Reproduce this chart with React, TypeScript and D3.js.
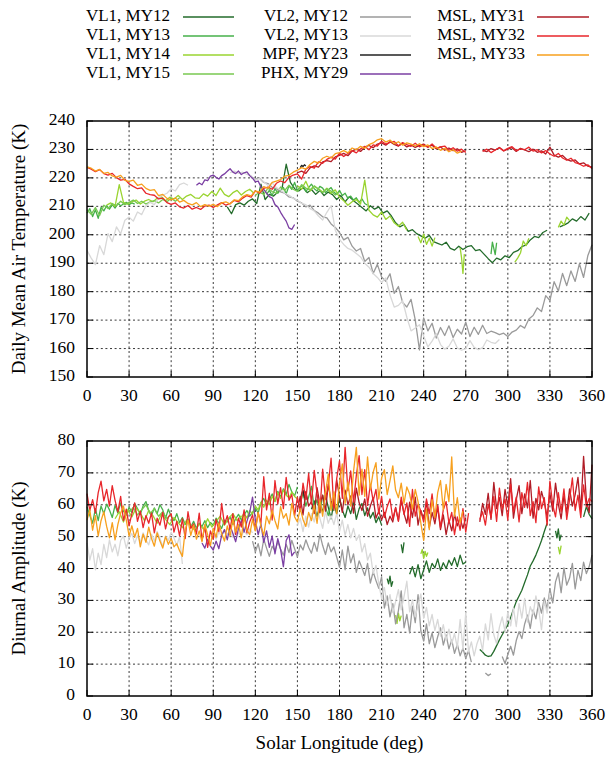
import React from "react";
import * as d3 from "d3";

type Seg = { start: number; step: number; values: (number | null)[] };

const xTicks = [0, 30, 60, 90, 120, 150, 180, 210, 240, 270, 300, 330, 360];
const tempTicks = [150, 160, 170, 180, 190, 200, 210, 220, 230, 240];
const ampTicks = [0, 10, 20, 30, 40, 50, 60, 70, 80];

const seriesLabels = [
  "VL1, MY12", "VL1, MY13", "VL1, MY14", "VL1, MY15",
  "VL2, MY12", "VL2, MY13", "MPF, MY23", "PHX, MY29",
  "MSL, MY31", "MSL, MY32", "MSL, MY33",
];
const seriesColors = [
  "#236b2b", "#46b04a", "#9ad430", "#78c850",
  "#9a9a9a", "#d8d8d8", "#222222", "#7b3fa3",
  "#b01c26", "#e8262b", "#f7a01e",
];

// ---------------- Daily mean temperature (K) ----------------
const msl32Temp = [
  223.7, 223.1, 222.2, 222.9, 221.5, 221.0, 221.6, 220.1, 219.2, 219.5,
  217.9, 217.0, 216.2, 216.5, 214.6, 214.1, 213.9, 212.6, 212.9, 211.3,
  210.7, 211.2, 209.8, 209.4, 210.3, 209.0, 209.6, 208.9, 210.1, 210.4,
  209.6, 210.5, 211.3, 210.4, 211.0, 212.1, 211.6, 212.9, 213.8, 213.2,
  215.4, 214.6, 216.3, 216.8, 216.0, 218.1, 218.9, 218.3, 220.2, 221.0,
  221.4, 219.6, 223.1, 224.0, 223.4, 225.6, 225.1, 226.5, 227.3, 226.6,
  228.7, 227.5, 228.6, 229.6, 228.8, 230.2, 231.1, 229.9, 231.6, 231.2,
  232.9, 231.9, 232.5, 232.8, 231.3, 232.4, 231.7, 231.1, 232.2, 230.9,
  231.6, 230.8, 231.9, 230.4, 230.9, 231.2, 229.7, 230.6, 229.4, 230.1,
  228.9, null, null, null, 229.3, 230.1, 228.9, 229.8, 230.6, 229.5,
  230.4, 231.0, 229.6, 230.2, 229.9, 230.8, 229.4, 229.9, 228.8, 229.6,
  228.4, 227.6, 228.6, 227.0, 226.2, 226.9, 225.4, 224.9, 224.1, 224.6,
  223.3,
];
const msl33Temp = [
  223.9, 223.4, 222.4, 223.0, 221.6, 221.9, 220.7, 220.3, 220.9, 219.1,
  218.8, 219.2, 217.4, 217.8, 216.3, 215.6, 215.9, 213.8, 214.2, 212.8,
  212.3, 212.9, 211.5, 212.1, 211.0, 210.5, 211.3, 209.9, 210.6, 210.1,
  210.7, 209.9, 211.2, 211.6, 210.8, 212.3, 212.0, 213.4, 214.1, 213.7,
  215.4, 215.0, 216.9, 216.3, 218.4, 218.9, 219.4, 220.6, 220.9, 222.0,
  222.7, 223.6, 223.1, 224.7, 225.8, 225.2, 226.9, 227.6, 227.0, 228.5,
  228.9, 229.6, 228.8, 230.5, 229.9, 231.1, 230.4, 231.7, 232.3, 233.4,
  233.8, 232.6, 233.3, 232.0, 232.7, 231.5, 232.3, 231.9, 231.2, 232.0,
  231.0, 231.6, 230.3, 230.9, 229.7, 230.4, 229.2, 229.9, 228.7, 229.4,
];
const msl31Temp = [
  221.8, 222.4, 221.6, 223.5, 224.2, 223.8, 225.6, 226.1, 225.7, 227.4,
  227.9, 228.6, 227.8, 229.4, 230.1, 229.3, 230.8, 231.4, 230.6, 231.9,
  232.3, 231.5, 232.7, 231.8, 231.2, 232.1, 230.9, 231.6, 230.7, 231.4,
  231.9, 230.8, 231.5, 230.2, 230.9, 229.7, 230.5, 229.6, 230.2, 229.0,
  229.6, null, null, null, 229.7, 229.2, 230.3, 229.8, 230.7, 229.5,
  230.1, 230.6, 229.3, 230.4, 229.8, 229.2, 230.1, 229.0, 229.5, 228.4,
  230.8, 228.0, 227.3, 227.9, 226.5, 225.9, 226.3, 224.9, 225.3, 224.1,
  223.8,
];
const vl2My12Temp = [
  220.2, 219.6, 219.9, 218.4, 218.0, 216.7, 216.2, 215.1, 214.6, 213.3,
  213.0, 211.8, 211.2, 209.8, 210.4, 208.5, 207.6, 206.3, 205.9, 203.8,
  202.6, 200.8, 198.2, 199.1, 196.0, 194.3, 195.2, 190.6, 192.0, 186.4,
  189.6, 185.2, 183.6, 186.3, 179.4, 181.8, 176.2, 174.6, 177.3, 170.1,
  159.5, 170.8, 166.2, 168.9, 163.7, 167.4, 164.6, 168.0, 163.9, 166.8,
  165.1, 169.3, 164.2, 167.5, 165.0, 168.2, 165.3, 166.1, 165.6, 164.9,
  165.4, 164.2, 165.8, 166.5, 168.1, 167.2, 170.4, 171.6, 174.3, 173.0,
  178.6, 176.9, 183.5, 180.2, 186.4, 182.1, 187.3, 183.6, 189.8, 185.0,
  192.6, 196.5,
];
const vl2My13Temp = [
  194.5, 191.8, 189.5, 196.2, 193.0, 200.4, 197.6, 202.8, 200.3, 205.1,
  206.2, 204.8, 208.0, 207.1, 210.2, 211.4, 210.6, 213.0, 213.9, 214.6,
  216.2, 215.4, 217.6, 218.2, 217.4, null, null, null, null, null,
  null, null, null, null, 221.8, 222.4, 221.6, 222.0, 221.2, 220.8,
  219.2, 219.8, 218.6, 217.4, 218.2, 216.6, 215.8, 214.6, 213.9, 212.8,
  212.2, 211.0, 210.6, 209.2, 208.4, 206.6, 205.2, 207.9, 210.2, 201.6,
  198.4, 196.6, 195.2, 194.6, 193.4, 192.2, 190.0, 188.6, 186.4, 185.0,
  183.2, 184.8, 178.8, 174.6, 175.2, 176.8, 171.0, 166.2, 167.2, 168.4,
  164.4, 160.6, 162.6, 165.2, 161.4, 159.8, 160.8, 163.4, 160.2, 159.4,
  160.0, 162.8, 160.4, 159.6, 160.3, 163.0, 162.2, 161.8, 163.2,
];
const phxTemp = [
  217.4, 218.2, 217.6, 219.3, 219.0, 220.6, 221.0, 220.2, 219.6, 220.8,
  221.4, 222.3, 223.2, 222.0, 221.5, 222.4, 221.2, 221.8, 222.1, 220.8,
  219.9, 218.6, 218.9, 216.8, 216.0, 214.6, 213.4, 212.9, 210.6, 209.8,
  207.9, 206.3, 204.8, 202.4, 201.9, 203.6,
];
const mpfTemp = [223.6, 224.4, 224.0, 224.6, 224.2];
const vl1My12Temp = [
  209.8, 207.4, 210.6, 211.2, 210.4, 211.8, 212.6, 211.0, 217.8, 212.4,
  214.2, 213.6, 215.0, 216.2, 224.8, 218.4, 216.2, 215.4, 216.6, 214.8,
  215.9, 214.2, 215.6, 213.8, 215.0, 214.1, 212.4, 213.8, 211.6, 213.4,
  212.0, 210.8, 209.6, 208.4, 210.2, 209.0, 209.8, 207.6, 208.4, 206.6,
  204.2, 202.8, 203.6, 201.2, 201.8, 200.4, 199.6, 198.8, 199.8, 197.6,
  197.0, 196.4, 197.4, 195.2, 194.6, 196.0, 194.8, 195.8, 196.2, 194.4,
  194.8, 193.2, 191.6, 190.2, 191.8, 191.2, 192.6, 192.0, 193.8, 194.4,
  195.8, 196.4, 198.2, 199.4, 199.0, 200.8, 201.6, null, null, 202.8,
  203.4, 204.2, 205.6, 204.8, 206.4, 205.2, 207.6,
];
const vl1My13TempA = [207.6, 209.2, 206.4, 208.8, 205.8, 209.6, 208.4, 210.2, 209.0, 210.6, 209.4, 211.0, 210.2, 210.8, 211.4, 210.6, 211.2, 210.8];
const vl1My13TempB = [
  214.2, 215.6, 213.8, 216.2, 214.6, 215.8, 216.6, 214.4, 217.2, 216.0,
  218.4, 215.6, 216.8, 217.4, 215.2, 216.6, 217.8, 216.2, 215.4, 217.0,
  216.4, 214.8, 215.8, 216.6, 215.0, 214.2, 215.6, 213.8, 214.6, 212.8,
  213.6, 212.2, 213.0, 211.4, 212.6, 211.0, 210.4,
];
const vl1My13TempC = [193.2, 197.4, 195.2, 193.0, 197.2];
const vl1My14TempA = [
  210.4, 211.2, 210.0, 217.6, 211.4, 210.8, 211.6, 212.2, 210.8, 211.8,
  212.4, 211.6, 212.8, 213.4, 212.0, 213.2, 212.6, 213.8, 212.4, 213.6,
  214.2, 213.0, 212.8, 214.4, 213.6, 215.2, 213.8, 216.4, 214.2, 213.4,
  214.8, 215.6, 214.0, 215.2, 216.0, 214.6,
];
const vl1My14TempB = [
  217.2, 216.0, 218.8, 215.4, 217.0, 216.2, 215.0, 216.4, 214.6, 215.8,
  213.2, 212.0, 210.4, 211.6, 212.4, 210.8, 219.2, 208.6, 207.0, 206.2,
  208.0, 205.4, 206.6, 204.2, 203.0, 204.4, 201.6,
];
const vl1My14TempC = [199.4, 197.2, 200.2, 196.6, 198.8, 196.0, 199.0];
const vl1My14TempD = [195.4, 192.0, 186.4, 193.2];
const vl1My14TempE = [190.4, 191.8, 193.6, 197.8, 196.2, 198.8];
const vl1My14TempF = [202.6, 204.8, 203.4, 206.2, 205.0];
const vl1My15TempA = [
  208.8, 207.2, 209.6, 206.8, 210.4, 209.2, 211.0, 210.2, 211.8, 210.6,
  211.4, 212.2, 211.0, 211.8, 210.8, 211.6, 212.0, 211.2, 212.4, 211.6,
  212.8, 211.8, 213.0,
];
const vl1My15TempB = [
  213.8, 215.0, 214.2, 216.4, 215.2, 214.6, 216.8, 215.6, 217.4, 216.0,
  215.2, 217.6, 216.4, 215.8, 217.2, 216.0, 214.8, 216.2, 215.4, 214.0, 215.0,
];

// ---------------- Diurnal amplitude (K) ----------------
const msl32Amp = [
  63.5, 58.2, 61.6, 57.4, 63.8, 67.4, 61.2, 64.8, 59.6, 66.0,
  61.4, 57.8, 62.6, 55.0, 58.6, 53.4, 57.2, 60.6, 54.8, 58.0,
  52.8, 56.6, 54.2, 57.4, 51.2, 55.8, 53.6, 57.6, 52.4, 56.2,
  57.2, 51.4, 54.8, 50.2, 55.6, 49.4, 57.8, 52.6, 54.0, 50.8,
  57.4, 48.8, 53.2, 46.6, 51.8, 49.2, 55.4, 51.6, 60.4, 53.8,
  56.6, 52.4, 57.2, 50.6, 55.8, 53.0, 58.4, 51.2, 54.6, 56.8,
  52.0, 57.6, 54.2, 68.8, 58.4, 63.6, 55.2, 67.6, 60.2, 65.4,
  58.8, 68.6, 61.4, 63.2, 56.6, 62.4, 58.0, 66.8, 61.6, 69.8,
  60.2, 70.8, 63.4, 57.6, 71.2, 61.8, 66.0, 74.6, 58.4, 68.2,
  73.8, 62.0, 78.0, 64.4, 70.6, 60.8, 69.2, 75.4, 63.2, 71.0,
  59.8, 66.4, 61.2, 64.8, 57.2, 62.6, 56.0, 59.4, 61.8, 55.6,
  59.0, 54.8, 62.4, 57.0, 60.6, 53.2, 64.8, 56.4, 60.2, 58.0,
  54.6, 61.8, 57.2, 63.4, 55.6, 59.8, 52.8, 58.4, 61.0, 54.2,
  57.6, 50.6, 56.2, 52.0, 58.8, 51.4, 57.4, null, null, null,
  55.4, 57.8, 53.6, 60.2, 56.0, 62.6, 54.8, 65.2, 58.6, 61.8,
  55.2, 66.4, 57.8, 62.4, 54.6, 63.8, 59.2, 67.0, 56.6, 61.0,
  54.4, 65.6, 58.8, 62.2, 53.6, 67.4, 60.0, 56.2, 63.8, 57.8,
  65.0, 55.4, 61.6, 68.4, 58.2, 63.0, 56.0, 66.2, 59.4, 62.0,
  61.0,
];
const msl33Amp = [
  55.2, 58.4, 52.0, 56.6, 50.2, 55.0, 57.8, 53.2, 49.6, 54.4,
  49.0, 53.8, 57.4, 59.6, 55.2, 50.2, 53.4, 49.8, 52.6, 46.8,
  50.8, 48.2, 53.0, 49.4, 47.0, 51.2, 48.6, 46.4, 50.0, 47.6,
  49.4, 46.8, 47.8, 45.6, 43.8, 52.0, 55.2, 50.4, 53.6, 49.2,
  51.8, 48.4, 53.8, 50.6, 47.2, 52.6, 49.8, 54.2, 51.0, 48.6,
  53.4, 50.2, 55.6, 51.4, 53.8, 49.6, 56.2, 52.0, 50.6, 55.4,
  51.8, 57.6, 53.2, 50.4, 56.4, 54.0, 58.2, 55.0, 52.4, 59.4,
  55.8, 57.2, 53.6, 60.4, 56.2, 54.6, 58.8, 55.4, 53.2, 57.6,
  55.0, 59.8, 54.2, 61.6, 56.4, 63.8, 69.6, 58.2, 64.0, 57.2,
  66.8, 72.8, 60.4, 67.2, 59.6, 70.4, 78.0, 63.0, 71.2, 62.6,
  75.0, 64.8, 70.2, 73.2, 61.8, 68.4, 71.0, 63.2, 67.6, 72.2,
  64.6, 62.2, 66.8, 60.4, 65.6, 63.4, 58.6, 64.8, 61.0, 54.2,
  48.8, 58.6, 52.2, 61.6, 56.0, 63.8, 67.6, 58.4, 66.4, 61.0,
  75.0, 56.4, 62.2, 54.4, 58.0,
];
const msl31Amp = [
  58.4, 62.6, 56.8, 64.2, 59.6, 61.0, 57.2, 65.4, 60.2, 63.0,
  58.0, 66.4, 61.2, 59.0, 67.8, 62.4, 57.6, 64.6, 60.0, 62.8,
  57.4, 65.2, 60.6, 58.2, 61.8, 56.4, 59.6, 62.2, 55.8, 58.0,
  55.2, 57.6, 53.8, 56.4, 54.6, 59.2, 55.0, 61.4, 57.2, 54.2,
  60.8, 56.0, 62.4, 53.6, 58.2, 55.4, 61.0, 52.8, 57.6, 54.0,
  59.4, 52.2, 56.8, 50.6, 55.2, 51.8, 57.0, 53.4, 55.8, 52.6,
  56.0, null, null, null, null, 54.6, 60.4, 57.0, 63.6, 55.4,
  67.0, 58.8, 62.2, 56.6, 64.8, 59.4, 68.2, 55.8, 61.6, 66.0,
  57.2, 63.4, 59.0, 67.6, 55.8, 62.0, 58.4, 64.2, 60.8, 56.2,
  63.6, 58.0, 66.8, 60.2, 55.6, 62.8, 57.4, 65.0, 59.6, 63.2,
  68.6, 58.2, 75.2, 61.4, 57.6, 72.6,
];
const vl1My13AmpA = [
  59.4, 56.6, 54.2, 58.8, 55.0, 59.6, 57.2, 60.2, 58.4, 56.0,
  59.8, 57.4, 60.6, 58.0, 56.8, 59.2, 57.6, 60.4, 58.8, 57.0,
  59.6, 61.0, 58.2, 56.6, 59.0, 57.2, 60.0, 58.4, 55.8, 58.6,
  56.4, 55.0, 57.2, 54.4, 56.0, 53.8, 55.6, 53.0, 54.8, 52.6,
  54.2, 53.2, 55.0, 52.8, 54.4, 53.6, 55.8, 54.0, 52.6, 55.2,
  54.6, 56.2, 53.8, 55.6, 57.0, 55.2, 56.8, 58.2, 56.4, 57.6,
  59.0, 57.4, 60.6, 62.0, 59.8, 61.6, 63.4, 61.0, 64.2, 62.4,
  65.0, 63.2, 66.4, 64.0, 62.8, 65.6,
];
const vl1My13AmpB = [60.2, 63.8, 59.6, 62.4, 65.8, 58.8, 61.6, 57.4, 63.0, 59.2, 56.6, 60.8, 58.0];
const vl1My14AmpA = [
  55.6, 57.8, 54.6, 58.4, 56.2, 59.0, 57.4, 55.0, 58.2, 56.6,
  54.2, 57.0, 55.4, 53.8, 56.0, 54.4, 52.8, 55.2, 53.6, 51.8,
  54.0, 52.4, 55.6, 53.0, 54.8, 56.4, 53.6, 55.8, 57.2, 55.0, 56.6,
];
const vl1My14AmpB = [
  56.0, 57.4, 55.8, 58.2, 57.0, 59.6, 58.4, 60.8, 59.2, 61.4,
  60.0, 62.6, 61.2, 63.8, 62.0, 64.6, 63.0, 62.2, 64.0, 62.6, 61.8,
];
const vl1My14AmpC = [44.6, 46.0, 43.2, 45.4, 43.8, 45.0];
const vl1My14AmpD = [25.4, 22.8, 26.0, 23.6, 25.2];
const vl1My14AmpE = [46.8, 44.6, 47.2];
const vl1My15AmpA = [57.6, 59.2, 56.8, 58.4, 60.0, 57.2, 58.8, 56.4, 57.8, 55.6, 57.0];
const vl1My12AmpA = [
  58.6, 61.2, 56.4, 60.0, 57.8, 63.0, 59.2, 55.6, 60.8, 57.0,
  62.2, 58.4, 56.0, 59.6, 57.2, 61.0, 55.4, 58.8, 60.4, 56.6,
  59.0, 55.8, 57.6, 54.4, 56.2, 53.6,
];
const vl1My12AmpB = [36.8, 35.2, 37.6, 34.4, 36.0];
const vl1My12AmpC = [47.6, 45.0, 48.2];
const vl1My12AmpD = [
  38.2, 40.6, 37.4, 41.2, 36.8, 39.6, 42.4, 38.8, 41.6, 40.2,
  43.0, 39.4, 41.8, 40.0, 42.6, 41.0, 43.4, 40.6, 44.2, 41.4, 42.0,
];
const vl1My12AmpE = [
  14.6, 13.8, 12.8, 12.4, 12.6, 14.0, 15.8, 17.6, 19.2, 20.8,
  22.4, 24.6, 27.2, 29.6, 31.4, 33.2, 35.6, 38.0, 40.8, 42.4,
  44.2, 46.4, 48.8, 51.6, 54.2,
];
const vl1My12AmpF = [51.8, 49.6, 52.4, 48.8, 50.6];
const vl1My12AmpG = [56.2, 59.4, 57.0, 55.6];
const vl2My12Amp = [
  48.6, 45.2, 47.8, 44.0, 49.2, 46.4, 43.8, 47.0, 45.6, 48.4,
  46.0, 44.2, 47.6, 45.0, 48.8, 46.2, 43.6, 47.4, 45.8, 49.0,
  46.6, 44.8, 48.2, 45.4, 50.8, 47.2, 44.4, 48.0, 45.2, 46.8,
  43.6, 40.4, 45.8, 39.6, 47.0, 41.8, 44.6, 38.8, 42.4, 40.2,
  37.8, 41.6, 35.4, 39.0, 36.2, 33.8, 37.4, 27.6, 31.4, 24.8,
  29.0, 22.6, 26.8, 33.0, 21.4, 25.6, 19.8, 28.2, 23.0, 31.8,
  20.4, 17.2, 22.6, 16.4, 19.8, 15.2, 18.6, 21.4, 16.0, 19.2,
  14.8, 17.6, 13.4, 16.2, 12.6, 15.0, 11.8, 14.2, 10.6, null,
  null, null, null, 7.2, 6.4, 7.0, null, null, null, 12.4,
  10.2, 13.0, 15.6, 12.8, 17.4, 20.2, 18.0, 22.6, 25.4, 21.2,
  27.0, 24.2, 29.4, 26.0, 30.8, 27.4, 33.6, 29.2, 35.8, 38.6,
  32.4, 40.2, 34.8, 37.0, 41.6, 33.6, 39.4, 36.2, 42.0, 38.4,
  40.6, 44.2,
];
const vl2My13Amp = [
  48.0, 42.6, 46.2, 39.6, 44.8, 41.2, 47.6, 43.4, 49.0, 45.2,
  47.6, 44.0, 48.8, 50.2, 46.4, 49.6, 51.0, 47.8, 50.4, 48.2,
  51.2, 49.0, 47.4, 50.8, 48.6, 51.6, 49.4, 47.0, 50.2, 48.8,
  51.4, 49.6, 47.2, 50.0, 41.4, null, null, null, null, null,
  null, null, null, null, null, 50.6, 49.2, 51.4, 50.0, 52.2,
  50.8, 51.6, 49.8, 52.0, 51.0, 50.2, 51.8, 50.6, 52.4, 51.2,
  null, null, null, null, null, null, null, null, null, null,
  null, null, null, null, null, 53.4, 55.8, 51.6, 56.4, 53.0,
  57.2, 54.6, 59.4, 55.8, 52.6, 58.0, 54.2, 56.6, 53.8, 57.4,
  51.6, 55.2, 50.4, 53.8, 49.6, 52.6, 48.8, 50.6, 45.2, 47.8,
  42.6, 44.8, 38.4, 41.0, 35.2, 30.6, 34.0, 28.4, 31.8, 26.2,
  29.6, 33.4, 27.0, 31.2, 36.0, 26.4, 30.2, 24.8, 28.6, 32.0,
  24.4, 27.8, 22.0, 25.6, 20.6, 24.0, 18.8, 22.4, 17.6, 21.0,
  16.4, 19.6, 15.2, 24.0, 14.6, 26.2, 13.8, 17.0, 12.6, 16.4,
  18.8, 14.2, 22.6, 17.6, 25.8, 19.2, 16.4, 21.6, 24.8, 20.2,
  26.4, 22.0, 27.6, 21.8, 29.0, 24.4, 30.6, 23.2, 28.0, 25.6,
  31.4, 27.2, 20.8, 29.8, 26.0, 32.4,
];
const phxAmp = [
  48.0, 46.4, 49.2, 47.0, 45.8, 48.6, 46.2, 50.4, 52.2, 49.0,
  53.4, 51.0, 48.4, 52.6, 55.0, 51.4, 54.8, 57.6, 62.4, 55.2,
  50.6, 54.0, 48.2, 51.8, 46.6, 50.2, 44.6, 49.4, 46.0, 40.6,
  48.8, 50.6, 44.0, 45.2,
];
const mpfAmp = [61.0, 63.4, 64.6, 62.2, 63.8, 61.6];

const seg = (start: number, step: number, values: (number | null)[]): Seg => ({ start, step, values });

const tempSegs: Seg[][] = [
  [seg(100, 3, vl1My12Temp)],
  [seg(0, 2, vl1My13TempA), seg(128, 2, vl1My13TempB), seg(288, 1, vl1My13TempC)],
  [seg(14, 3, vl1My14TempA), seg(150, 3, vl1My14TempB), seg(236, 2, vl1My14TempC), seg(266, 1, vl1My14TempD), seg(305, 2, vl1My14TempE), seg(336, 2, vl1My14TempF)],
  [seg(0, 3, vl1My15TempA), seg(120, 3, vl1My15TempB)],
  [seg(117, 3, vl2My12Temp)],
  [seg(0, 3, vl2My13Temp)],
  [seg(152, 1, mpfTemp)],
  [seg(78, 2, phxTemp)],
  [seg(150, 3, msl31Temp)],
  [seg(0, 3, msl32Temp)],
  [seg(0, 3, msl33Temp)],
];
const ampSegs: Seg[][] = [
  [seg(160, 2, vl1My12AmpA), seg(214, 1, vl1My12AmpB), seg(224, 1, vl1My12AmpC), seg(230, 2, vl1My12AmpD), seg(280, 2, vl1My12AmpE), seg(334, 1, vl1My12AmpF), seg(354, 2, vl1My12AmpG)],
  [seg(0, 2, vl1My13AmpA), seg(152, 2, vl1My13AmpB)],
  [seg(20, 3, vl1My14AmpA), seg(110, 2, vl1My14AmpB), seg(238, 1, vl1My14AmpC), seg(220, 1, vl1My14AmpD), seg(336, 1, vl1My14AmpE)],
  [seg(30, 3, vl1My15AmpA)],
  [seg(118, 2, vl2My12Amp)],
  [seg(0, 2, vl2My13Amp)],
  [seg(152, 1, mpfAmp)],
  [seg(82, 2, phxAmp)],
  [seg(150, 2, msl31Amp)],
  [seg(0, 2, msl32Amp)],
  [seg(0, 2, msl33Amp)],
];

const FONT = "Liberation Serif, DejaVu Serif, Times New Roman, serif";
const X0 = 87, X1 = 592;

function Panel({ yScale, ticks, segs, title }: { yScale: d3.ScaleLinear<number, number>; ticks: number[]; segs: Seg[][]; title: string }) {
  const x = d3.scaleLinear().domain([0, 360]).range([X0, X1]);
  const [yb, yt] = yScale.range();
  const line = d3
    .line<[number, number | null]>()
    .defined((d) => d[1] !== null)
    .x((d) => x(d[0]))
    .y((d) => yScale(d[1] as number));
  const toPts = (s: Seg): [number, number | null][] => s.values.map((v, i) => [s.start + i * s.step, v]);
  const tickLen = 6;
  return (
    <g>
      {xTicks.slice(1, -1).map((t) => (
        <line key={"gx" + t} x1={x(t)} x2={x(t)} y1={yt} y2={yb} stroke="#222" strokeWidth={0.9} strokeDasharray="2,2.6" />
      ))}
      {ticks.slice(1, -1).map((t) => (
        <line key={"gy" + t} x1={X0} x2={X1} y1={yScale(t)} y2={yScale(t)} stroke="#222" strokeWidth={0.9} strokeDasharray="2,2.6" />
      ))}
      {segs.map((ss, si) =>
        ss.map((s, k) => (
          <path key={si + "-" + k} d={line(toPts(s)) || ""} fill="none" stroke={seriesColors[si]} strokeWidth={1.3} strokeLinejoin="round" />
        ))
      )}
      {xTicks.map((t) => (
        <g key={"tx" + t}>
          <line x1={x(t)} x2={x(t)} y1={yb} y2={yb - tickLen} stroke="#000" strokeWidth={1} />
          <line x1={x(t)} x2={x(t)} y1={yt} y2={yt + tickLen} stroke="#000" strokeWidth={1} />
          <text x={x(t)} y={yb + 20} textAnchor="middle" dominantBaseline="middle" fontFamily={FONT} fontSize={17.5}>{t}</text>
        </g>
      ))}
      {ticks.map((t) => (
        <g key={"ty" + t}>
          <line x1={X0} x2={X0 + tickLen} y1={yScale(t)} y2={yScale(t)} stroke="#000" strokeWidth={1} />
          <line x1={X1} x2={X1 - tickLen} y1={yScale(t)} y2={yScale(t)} stroke="#000" strokeWidth={1} />
          <text x={75} y={yScale(t)} textAnchor="end" dominantBaseline="middle" fontFamily={FONT} fontSize={17.5}>{t}</text>
        </g>
      ))}
      <rect x={X0} y={yt} width={X1 - X0} height={yb - yt} fill="none" stroke="#000" strokeWidth={1.5} />
      <text transform={`translate(21,${(yt + yb) / 2}) rotate(-90)`} textAnchor="middle" dominantBaseline="middle" fontFamily={FONT} fontSize={19}>{title}</text>
    </g>
  );
}

export default function App() {
  const yT = d3.scaleLinear().domain([150, 240]).range([377, 121]);
  const yA = d3.scaleLinear().domain([0, 80]).range([696, 441]);
  const legendCols = [
    { textX: 170, lx0: 183, lx1: 234, idx: [0, 1, 2, 3] },
    { textX: 348, lx0: 360, lx1: 411, idx: [4, 5, 6, 7] },
    { textX: 525, lx0: 537, lx1: 589, idx: [8, 9, 10] },
  ];
  const legendRows = [17, 36, 55, 74];
  return (
    <svg width={614} height={757} style={{ position: "absolute", left: 0, top: 0, background: "#fff" }}>
      <rect x={0} y={0} width={614} height={757} fill="#fff" />
      {legendCols.map((c, ci) =>
        c.idx.map((si, ri) => (
          <g key={ci + "-" + ri}>
            <text x={c.textX} y={legendRows[ri]} textAnchor="end" dominantBaseline="middle" fontFamily={FONT} fontSize={17}>{seriesLabels[si]}</text>
            <line x1={c.lx0} x2={c.lx1} y1={legendRows[ri]} y2={legendRows[ri]} stroke={seriesColors[si]} strokeWidth={1.6} />
          </g>
        ))
      )}
      <Panel yScale={yT} ticks={tempTicks} segs={tempSegs} title="Daily Mean Air Temperature (K)" />
      <Panel yScale={yA} ticks={ampTicks} segs={ampSegs} title="Diurnal Amplitude (K)" />
      <text x={(X0 + X1) / 2} y={745} textAnchor="middle" dominantBaseline="middle" fontFamily={FONT} fontSize={19}>Solar Longitude (deg)</text>
    </svg>
  );
}
